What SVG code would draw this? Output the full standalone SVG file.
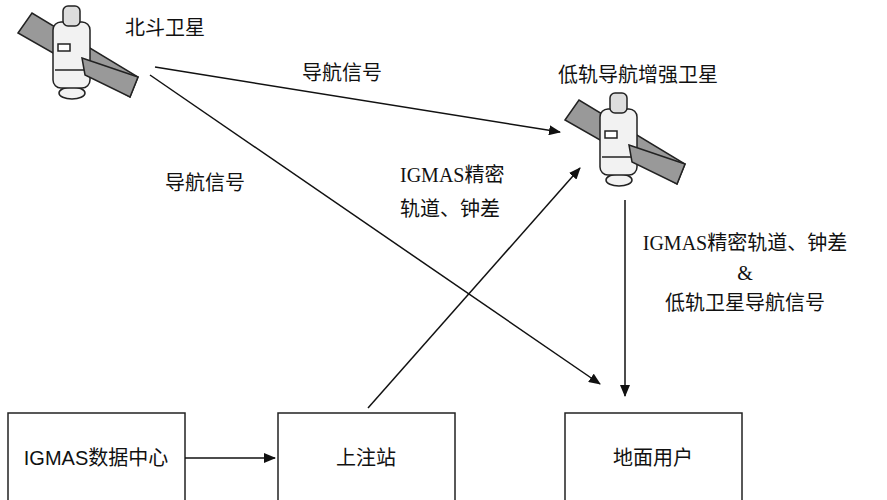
<svg xmlns="http://www.w3.org/2000/svg" width="887" height="500" viewBox="0 0 887 500">
<style>
text{font-family:"Liberation Sans","Noto Sans CJK SC",sans-serif;font-size:20px;fill:#111}
.sf{font-family:"Liberation Serif","Noto Sans CJK SC",serif}
.box{fill:#fff;stroke:#222;stroke-width:1.5}
.c{stroke:#111;stroke-width:1.5;fill:none;marker-end:url(#ah)}
.s{stroke:#222;stroke-width:1.5}
</style>
<defs>
<marker id="ah" markerWidth="12" markerHeight="10" refX="11" refY="5" orient="auto" markerUnits="userSpaceOnUse"><path d="M0,0L12,5L0,10z" fill="#111"/></marker>
<g id="sat">
<polygon points="18,33 32,13 138,77 130,97" fill="#999" class="s"/>
<ellipse cx="72" cy="93" rx="13" ry="6" fill="#f2f2f2" class="s"/>
<rect x="53" y="22" width="37" height="66" rx="8" fill="#f2f2f2" class="s"/>
<rect x="63" y="6" width="17" height="20" rx="5" fill="#ddd" class="s"/>
<rect x="58" y="44" width="12" height="7" fill="#fff" class="s" stroke-width="1"/>
<line x1="55" y1="70" x2="88" y2="70" class="s" stroke-width="1"/>
<polygon points="82,58 138,77 130,97 85,75" fill="#999" class="s"/>
</g>
</defs>
<g id="beidou"><use href="#sat"/><text x="125" y="35">北斗卫星</text></g>
<g id="leo"><use href="#sat" transform="translate(547,87)"/><text x="558" y="82">低轨导航增强卫星</text></g>
<g id="igmas"><rect class="box" x="8" y="413" width="177" height="90"/><text x="96" y="465" text-anchor="middle">IGMAS数据中心</text></g>
<g id="upload"><rect class="box" x="278" y="413" width="177" height="90"/><text x="366" y="465" text-anchor="middle">上注站</text></g>
<g id="user"><rect class="box" x="565" y="413" width="177" height="90"/><text x="653" y="465" text-anchor="middle">地面用户</text></g>
<g id="connectors">
<line class="c" x1="155" y1="67" x2="560" y2="132"/>
<line class="c" x1="150" y1="75" x2="600" y2="384"/>
<line class="c" x1="368" y1="408" x2="580" y2="168"/>
<line class="c" x1="625" y1="200" x2="625" y2="396"/>
<line class="c" x1="185" y1="458" x2="275" y2="458"/>
<text x="302" y="80">导航信号</text>
<text x="165" y="190">导航信号</text>
<text x="400" y="182" class="sf">IGMAS精密</text>
<text x="400" y="216">轨道、钟差</text>
<text x="745" y="250" text-anchor="middle" class="sf">IGMAS精密轨道、钟差</text>
<text x="745" y="280" text-anchor="middle" class="sf">&amp;</text>
<text x="745" y="310" text-anchor="middle">低轨卫星导航信号</text>
</g>
</svg>
